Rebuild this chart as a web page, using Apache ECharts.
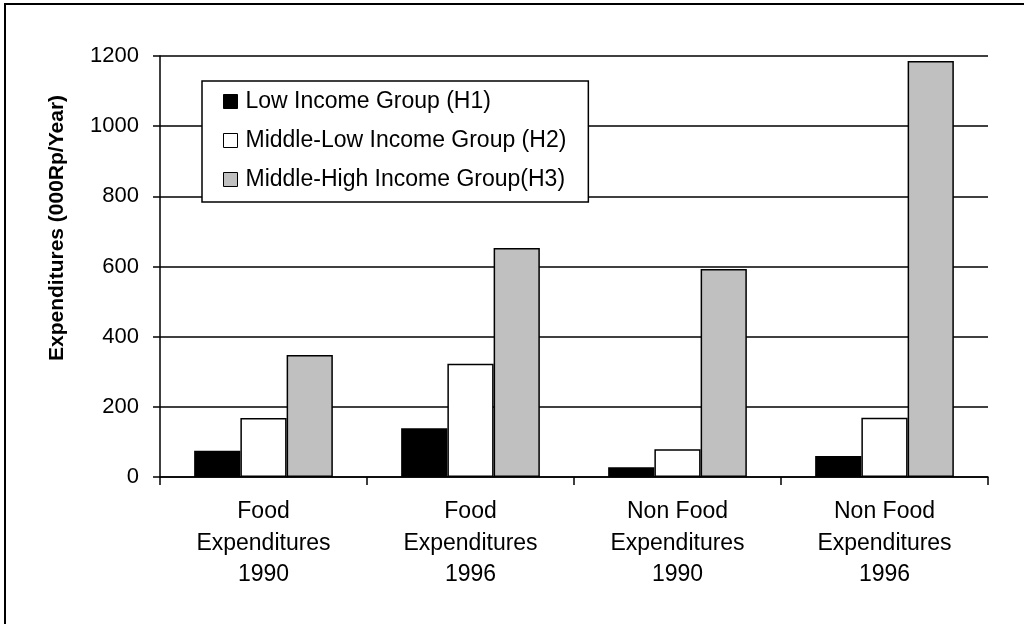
<!DOCTYPE html>
<html>
<head>
<meta charset="utf-8">
<script src="https://cdn.jsdelivr.net/npm/echarts@6/dist/echarts.min.js"></script>
<style>
html,body{margin:0;padding:0;background:#fff;}
#c{width:1024px;height:624px;}
</style>
</head>
<body>
<div id="c"></div>
<script>
var categories = ['Food\nExpenditures\n1990', 'Food\nExpenditures\n1996', 'Non Food\nExpenditures\n1990', 'Non Food\nExpenditures\n1996'];
var seriesNames = ['Low Income Group (H1)', 'Middle-Low Income Group (H2)', 'Middle-High Income Group(H3)'];
var lowIncome = [75, 139, 28, 60];
var middleLowIncome = [168, 323, 79, 169];
var middleHighIncome = [348, 653, 593, 1186];
var yTicks = [0, 200, 400, 600, 800, 1000, 1200];
var yTitle = 'Expenditures (000Rp/Year)';

var FONT = '"Liberation Sans", Arial, sans-serif';
var colors = ['#000000', '#ffffff', '#c0c0c0'];
var dataSets = [lowIncome, middleLowIncome, middleHighIncome];

var chart = echarts.init(document.getElementById('c'), null, {renderer: 'canvas'});
var option = {
  animation: false,
  backgroundColor: '#fff',
  textStyle: {fontFamily: FONT},
  grid: {left: 160, right: 36, top: 56, bottom: 147, containLabel: false},
  legend: {
    orient: 'vertical',
    left: 202, top: 81,
    data: seriesNames,
    backgroundColor: '#fff',
    borderColor: '#000',
    borderWidth: 1.5,
    borderRadius: 0,
    padding: [7, 22, 9, 21],
    itemWidth: 14, itemHeight: 14,
    itemGap: 12,
    icon: 'rect',
    itemStyle: {borderColor: '#000', borderWidth: 1},
    textStyle: {fontFamily: FONT, fontSize: 23, color: '#000', lineHeight: 27, padding: [0, 0, 0, 3]}
  },
  xAxis: {
    type: 'category',
    data: categories,
    axisLine: {lineStyle: {color: '#000', width: 1.5}},
    axisTick: {show: true, length: 8, lineStyle: {color: '#000', width: 1.5}},
    axisLabel: {color: '#000', fontFamily: FONT, fontSize: 23, lineHeight: 31.5, margin: 19, interval: 0}
  },
  yAxis: {
    type: 'value',
    min: yTicks[0], max: yTicks[yTicks.length - 1], interval: 200,
    axisLine: {show: true, lineStyle: {color: '#000', width: 1.5}},
    axisTick: {show: true, length: 7, lineStyle: {color: '#000', width: 1.5}},
    axisLabel: {color: '#000', fontFamily: FONT, fontSize: 22, margin: 21, formatter: function (v) { return String(v); }},
    splitLine: {show: true, lineStyle: {color: '#000', width: 1.5}}
  },
  graphic: [
    {type: 'rect', shape: {x: 5, y: 4, width: 1200, height: 800}, style: {fill: 'none', stroke: '#000', lineWidth: 2}, silent: true, z: 100},
    {type: 'text', x: 57, y: 228, rotation: Math.PI / 2,
     style: {text: yTitle, font: 'bold 21px ' + FONT, fill: '#000', align: 'center', verticalAlign: 'middle'}}
  ],
  series: seriesNames.map(function (n, i) {
    return {
      name: n, type: 'bar', data: dataSets[i],
      barGap: '0%', barCategoryGap: '33%',
      itemStyle: {color: colors[i], borderColor: '#000', borderWidth: 1.5},
      emphasis: {disabled: true}
    };
  })
};
chart.setOption(option);
</script>
</body>
</html>
